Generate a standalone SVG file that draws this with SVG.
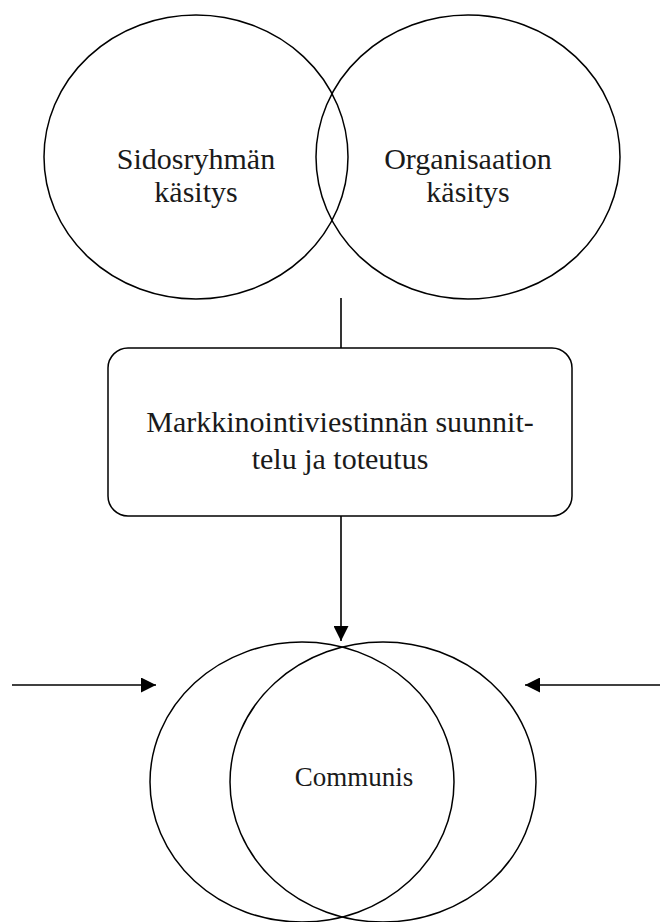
<svg xmlns="http://www.w3.org/2000/svg" width="660" height="922" viewBox="0 0 660 922">
  <style>
    .shape { fill: none; stroke: #000; stroke-width: 1.5; }
    .line { fill: none; stroke: #000; stroke-width: 1.6; }
    .label { font-family: "Liberation Serif", "Times New Roman", serif; font-size: 30px; fill: #1a1a1a; text-anchor: middle; }
  </style>
  <defs>
    <marker id="arrow" viewBox="0 0 15 15" refX="15" refY="7.5" markerWidth="15" markerHeight="15" markerUnits="userSpaceOnUse" orient="auto">
      <path d="M0,0 L15,7.5 L0,15 Z" fill="#000"/>
    </marker>
  </defs>
  <rect width="660" height="922" fill="#fff"/>

  <g id="sidosryhma">
    <ellipse class="shape" cx="196" cy="157" rx="152" ry="142"/>
    <text class="label" x="196" y="169">Sidosryhmän</text>
    <text class="label" x="196" y="202">käsitys</text>
  </g>

  <g id="organisaatio">
    <ellipse class="shape" cx="468" cy="157" rx="152" ry="142"/>
    <text class="label" x="468" y="169">Organisaation</text>
    <text class="label" x="468" y="202">käsitys</text>
  </g>

  <g id="suunnittelu">
    <rect class="shape" x="108" y="348" width="464" height="168" rx="20" ry="20"/>
    <text class="label" x="340" y="432">Markkinointiviestinnän suunnit-</text>
    <text class="label" x="340" y="469">telu ja toteutus</text>
  </g>

  <g id="communis">
    <ellipse class="shape" cx="302" cy="782" rx="152" ry="140"/>
    <ellipse class="shape" cx="383" cy="782" rx="153" ry="140"/>
    <text class="label" x="354" y="786" style="font-size:27px">Communis</text>
  </g>

  <g id="connectors">
    <line class="line" x1="341" y1="298" x2="341" y2="348"/>
    <line class="line" x1="341" y1="516" x2="341" y2="641" marker-end="url(#arrow)"/>
    <line class="line" x1="12" y1="685" x2="156" y2="685" marker-end="url(#arrow)"/>
    <line class="line" x1="660" y1="685" x2="525" y2="685" marker-end="url(#arrow)"/>
  </g>
</svg>
